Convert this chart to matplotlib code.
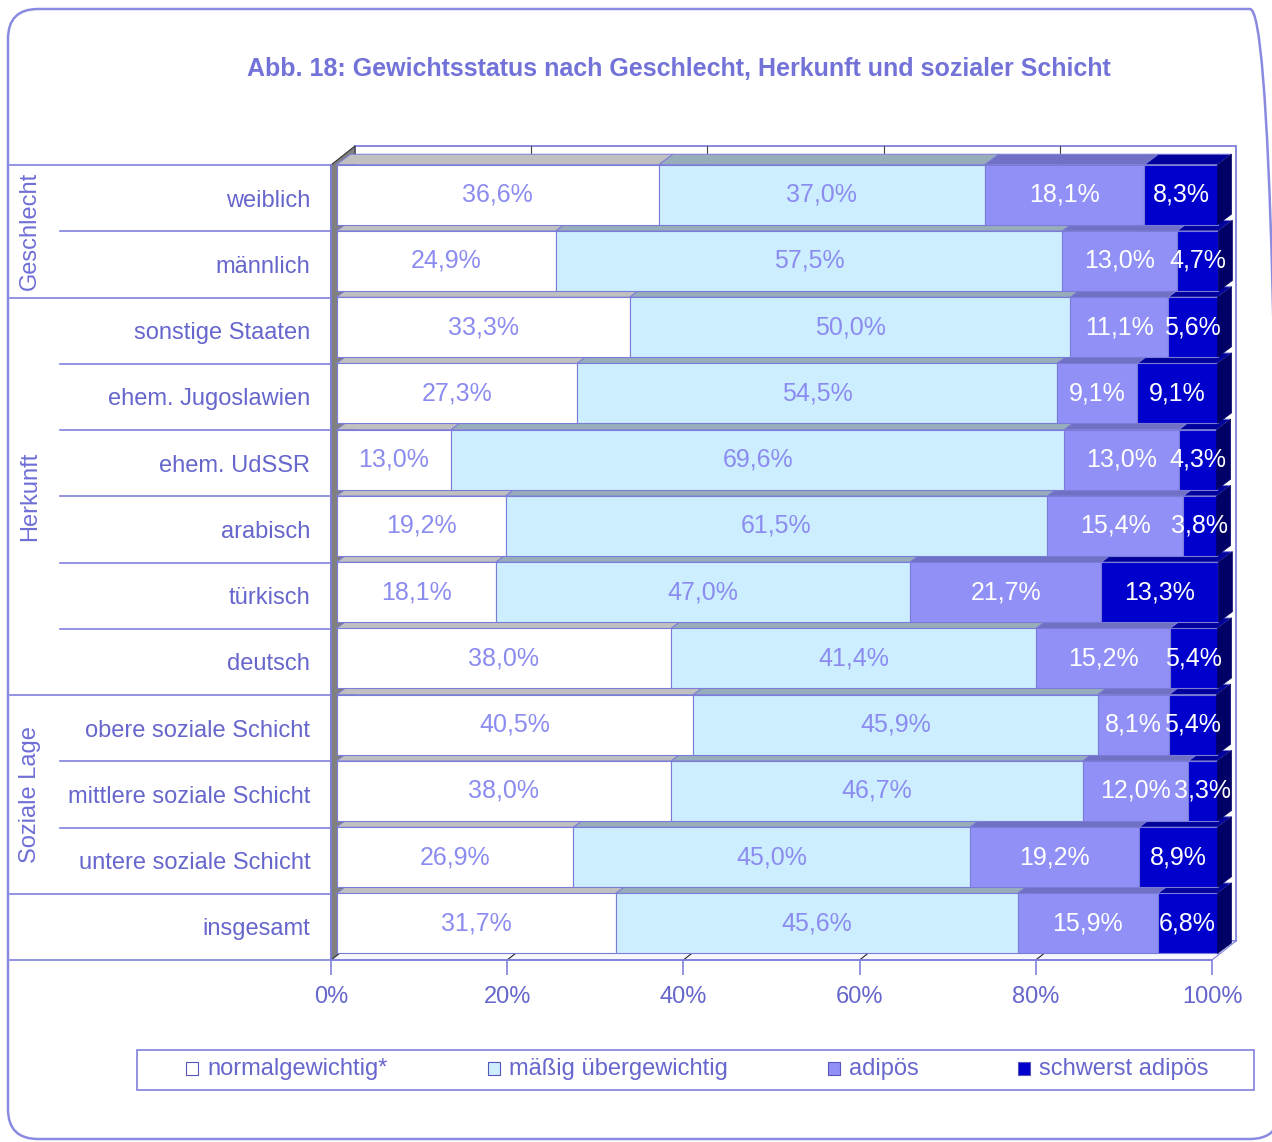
import matplotlib.pyplot as plt
from matplotlib.patches import FancyBboxPatch, Rectangle, Polygon

plt.rcParams["font.family"] = ["Liberation Sans", "DejaVu Sans"]

# data
categories = ["weiblich", "männlich", "sonstige Staaten", "ehem. Jugoslawien",
              "ehem. UdSSR", "arabisch", "türkisch", "deutsch",
              "obere soziale Schicht", "mittlere soziale Schicht",
              "untere soziale Schicht", "insgesamt"]
normal = [36.6, 24.9, 33.3, 27.3, 13.0, 19.2, 18.1, 38.0, 40.5, 38.0, 26.9, 31.7]
maessig = [37.0, 57.5, 50.0, 54.5, 69.6, 61.5, 47.0, 41.4, 45.9, 46.7, 45.0, 45.6]
adipoes = [18.1, 13.0, 11.1, 9.1, 13.0, 15.4, 21.7, 15.2, 8.1, 12.0, 19.2, 15.9]
schwerst = [8.3, 4.7, 5.6, 9.1, 4.3, 3.8, 13.3, 5.4, 5.4, 3.3, 8.9, 6.8]
series_names = ["normalgewichtig*", "mäßig übergewichtig", "adipös", "schwerst adipös"]
groups = [("Geschlecht", 0, 1), ("Herkunft", 2, 7), ("Soziale Lage", 8, 10)]
x_ticks = [0, 20, 40, 60, 80, 100]

series = [normal, maessig, adipoes, schwerst]
front_cols = ["#ffffff", "#cceeff", "#9090f6", "#0000cc"]
top_cols = ["#c0c0c0", "#97adb9", "#7070c4", "#00009c"]
side_col = "#000066"
txt_cols = ["#8c8cf0", "#8c8cf0", "white", "white"]
edge = "#7b7bd8"
lav = "#8080dc"
label_col = "#6666cc"

W, H = 1272, 1142
fig = plt.figure(figsize=(W / 100, H / 100), dpi=100)
# plot area in pixels: x 331..1212, y 165..960
ax_l, ax_r, ax_t, ax_b = 331, 1212, 165, 960
ax = fig.add_axes([ax_l / W, 1 - ax_b / H, (ax_r - ax_l) / W, (ax_b - ax_t) / H])
ax.set_facecolor("none")
n = len(categories)
ax.set_xlim(0, 100)
ax.set_ylim(n - 0.5, -0.5)

# pixel -> data helpers
px_x = 100 / (ax_r - ax_l)
px_y = n / (ax_b - ax_t)

# back wall, left wall, floor
wdx, wdy = 24 * px_x, 19 * px_y
ax.add_patch(Rectangle((wdx, -0.5 - wdy), 100, n, facecolor="white",
                       edgecolor=lav, lw=1.3, clip_on=False, zorder=0))
for t in x_ticks[1:-1]:
    ax.plot([t + wdx, t + wdx], [-0.5 - wdy, n - 0.5 - wdy], color="#444444",
            lw=0.8, clip_on=False, zorder=0.1)
ax.add_patch(Polygon([(0, -0.5), (0, n - 0.5), (wdx, n - 0.5 - wdy), (wdx, -0.5 - wdy)],
                     closed=True, facecolor="#808080", edgecolor="#333333", lw=0.8,
                     clip_on=False, zorder=0.3))
ax.add_patch(Polygon([(0, n - 0.5), (100, n - 0.5), (100 + wdx, n - 0.5 - wdy), (wdx, n - 0.5 - wdy)],
                     closed=True, facecolor="#f7f7ff", edgecolor=lav, lw=0.8,
                     clip_on=False, zorder=0.15))
for t in x_ticks[1:-1]:
    ax.plot([t, t + wdx], [n - 0.5, n - 0.5 - wdy], color="#222222", lw=0.8,
            clip_on=False, zorder=0.2)

# bars (bottom row first so upper rows cover lower top faces)
bh = 60 * px_y
ox, oy = 5.5 * px_x, 3.4 * px_y
dx, dy = 14 * px_x, 10.5 * px_y
for i in range(n - 1, -1, -1):
    left = 0
    top = i - bh / 2 - oy
    bot = i + bh / 2 - oy
    z = 1 + (n - i) * 0.01
    for k, s in enumerate(series):
        v = s[i]
        l, r = left + ox, left + v + ox
        ax.add_patch(Polygon([(l, top), (r, top), (r + dx, top - dy), (l + dx, top - dy)],
                             closed=True, facecolor=top_cols[k], edgecolor=edge, lw=0.7,
                             zorder=z, clip_on=False))
        left += v
    left = 0
    for k, s in enumerate(series):
        v = s[i]
        ax.barh(i - oy, v, left=left + ox, height=bh, color=front_cols[k],
                edgecolor=edge, lw=0.8, zorder=z + 0.001, clip_on=False)
        left += v
    r = left + ox
    ax.add_patch(Polygon([(r, top), (r, bot), (r + dx, bot - dy), (r + dx, top - dy)],
                         closed=True, facecolor=side_col, edgecolor=side_col, lw=0.5,
                         zorder=z + 0.002, clip_on=False))

# value labels
for i in range(n):
    left = 0
    for k, s in enumerate(series):
        v = s[i]
        ax.text(left + v / 2 + ox, i - oy, f"{v:.1f}".replace(".", ",") + "%",
                ha="center", va="center", fontsize=18, color=txt_cols[k], zorder=5,
                clip_on=False)
        left += v

# axes styling
for sp in ["top", "right"]:
    ax.spines[sp].set_visible(False)
ax.spines["left"].set_color(lav)
ax.spines["bottom"].set_color(lav)
ax.spines["left"].set_linewidth(1.3)
ax.spines["bottom"].set_linewidth(1.3)
ax.set_xticks(x_ticks, [f"{t}%" for t in x_ticks])
ax.tick_params(axis="x", length=11, width=1.2, color=lav, labelsize=17,
               labelcolor=label_col, pad=8)
ax.set_yticks(range(n), categories)
ax.tick_params(axis="y", length=0, labelsize=17, labelcolor=label_col, pad=15)

# category separators and group labels on the left
gfrac_outer = (10 - ax_l) / (ax_r - ax_l)
gfrac_inner = (60 - ax_l) / (ax_r - ax_l)
ytr = ax.get_yaxis_transform()
outer = {-0.5, n - 0.5}
for name, a, b in groups:
    outer.add(a - 0.5)
    outer.add(b + 0.5)
for k in range(n + 1):
    yb = k - 0.5
    x0 = gfrac_outer if yb in outer else gfrac_inner
    ax.plot([x0, 0], [yb, yb], color=lav, lw=1.2, transform=ytr, clip_on=False)
for name, a, b in groups:
    ax.text((30 - ax_l) / (ax_r - ax_l), (a + b) / 2, name, rotation=90,
            ha="center", va="center", fontsize=17, color="#6e6ed6",
            transform=ytr)

# title
fig.text(679 / W, 1 - 69 / H,
         "Abb. 18: Gewichtsstatus nach Geschlecht, Herkunft und sozialer Schicht",
         ha="center", va="center", fontsize=18, fontweight="bold", color="#7272d8")

# legend box
fig.add_artist(Rectangle((137 / W, 1 - 1090 / H), (1254 - 137) / W, 40 / H,
                         transform=fig.transFigure, facecolor="none",
                         edgecolor=lav, lw=1.2))
leg_x = [186, 488, 828, 1018]
for k, name in enumerate(series_names):
    fig.add_artist(Rectangle((leg_x[k] / W, 1 - 1075 / H), 12 / W, 13 / H,
                             transform=fig.transFigure, facecolor=front_cols[k],
                             edgecolor="#5555bb", lw=0.8))
    fig.text((leg_x[k] + 21) / W, 1 - 1069 / H, name, ha="left", va="center",
             fontsize=17, color=label_col)

# outer rounded frame
fig.add_artist(FancyBboxPatch((8 / 100, 3 / 100), (1280 - 8) / 100, (1136 - 6) / 100,
                              boxstyle="round,pad=0,rounding_size=0.3",
                              transform=fig.dpi_scale_trans, facecolor="none",
                              edgecolor="#8a8ae0", lw=1.8))

fig.savefig("out.png", dpi=100)
